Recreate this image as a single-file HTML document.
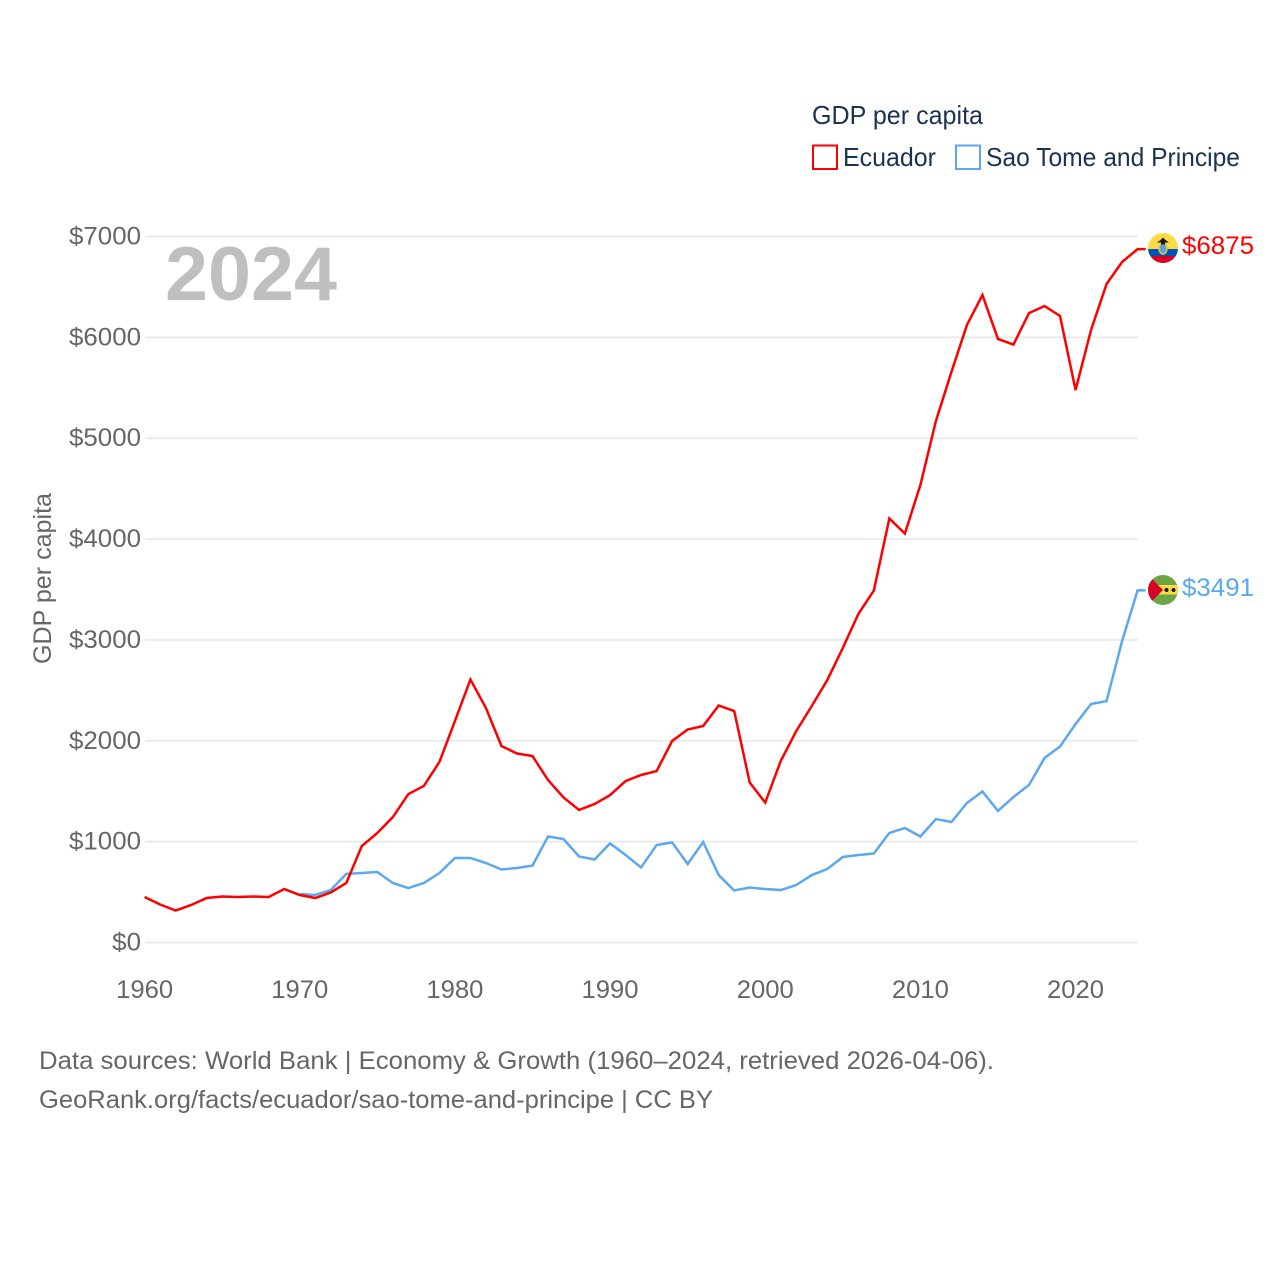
<!DOCTYPE html>
<html>
<head>
<meta charset="utf-8">
<title>GDP per capita: Ecuador and Sao Tome and Principe</title>
<style>
html,body{margin:0;padding:0;background:#fff;}
svg{display:block;}
text{font-family:"Liberation Sans",sans-serif;}
</style>
</head>
<body>
<svg id="chart" width="1280" height="1280" viewBox="0 0 1280 1280" xmlns="http://www.w3.org/2000/svg">
  <defs>
    <clipPath id="clip-flag-ec"><circle cx="1163" cy="248" r="15"/></clipPath>
    <clipPath id="clip-flag-st"><circle cx="1163" cy="590" r="15"/></clipPath>
  </defs>
  <rect width="1280" height="1280" fill="#ffffff"/>

  <g>
    <text x="812" y="124" font-size="26" fill="#1a3353" textLength="171" lengthAdjust="spacingAndGlyphs">GDP per capita</text>
    <rect x="813" y="145.5" width="24" height="23.5" fill="none" stroke="#ff0000" stroke-width="2"/>
    <text x="843" y="166" font-size="26" fill="#1a3353" textLength="93" lengthAdjust="spacingAndGlyphs">Ecuador</text>
    <rect x="956" y="145.5" width="24" height="23.5" fill="none" stroke="#5ba8f0" stroke-width="2"/>
    <text x="986" y="166" font-size="26" fill="#1a3353" textLength="254" lengthAdjust="spacingAndGlyphs">Sao Tome and Principe</text>
  </g>

  <g id="grid"></g>
  <g id="yticks"></g>
  <g id="xticks"></g>

  <text x="165" y="300" font-size="76" font-weight="700" fill="#bfbfbf" textLength="172" lengthAdjust="spacingAndGlyphs">2024</text>

  <text transform="translate(51 664) rotate(-90)" font-size="25" fill="#666666" textLength="171" lengthAdjust="spacingAndGlyphs">GDP per capita</text>

  <g id="series"></g>

  <g clip-path="url(#clip-flag-ec)">
    <rect x="1148" y="233" width="30" height="16" fill="#ffda44"/>
    <rect x="1148" y="249" width="30" height="7" fill="#0052b4"/>
    <rect x="1148" y="256" width="30" height="8" fill="#d80027"/>
    <ellipse cx="1163" cy="248.5" rx="4" ry="5.5" fill="#5f9fd8" stroke="#e8c53a" stroke-width="1.5"/>
    <path d="M1157 242.5 L1169 242.5 L1165.5 240 L1163 237.5 L1160.5 240 Z" fill="#1a1a1a"/>
    <rect x="1161" y="242" width="4" height="2.5" fill="#1a1a1a"/>
  </g>
  <g clip-path="url(#clip-flag-st)">
    <rect x="1148" y="575" width="30" height="30" fill="#6da544"/>
    <rect x="1148" y="585" width="30" height="9.5" fill="#ffda44"/>
    <path d="M1148 575 L1163 590 L1148 605 Z" fill="#d80027"/>
    <circle cx="1166.5" cy="590" r="2" fill="#1a1a1a"/>
    <circle cx="1173.5" cy="590" r="2" fill="#1a1a1a"/>
  </g>

  <text x="1182" y="254" font-size="25" fill="#ff0000" textLength="72" lengthAdjust="spacingAndGlyphs">$6875</text>
  <text x="1182" y="596" font-size="25" fill="#5ba8f0" textLength="72" lengthAdjust="spacingAndGlyphs">$3491</text>

  <text x="39" y="1069" font-size="25" fill="#666666" textLength="955" lengthAdjust="spacingAndGlyphs">Data sources: World Bank | Economy &amp; Growth (1960–2024, retrieved 2026-04-06).</text>
  <text x="39" y="1108" font-size="25" fill="#666666" textLength="674" lengthAdjust="spacingAndGlyphs">GeoRank.org/facts/ecuador/sao-tome-and-principe | CC BY</text>
</svg>
<script>
const yTickValues = [0, 1000, 2000, 3000, 4000, 5000, 6000, 7000];
const xTickYears = [1960, 1970, 1980, 1990, 2000, 2010, 2020];
const ecuadorStartYear = 1960;
const ecuadorValues = [451,377,317,372,441,456,451,456,451,530,471,441,496,590,957,1086,1244,1472,1552,1790,2196,2608,2325,1948,1874,1849,1611,1438,1314,1373,1462,1601,1661,1700,1998,2112,2147,2350,2295,1586,1388,1800,2097,2345,2603,2920,3257,3490,4204,4055,4536,5171,5657,6123,6420,5984,5929,6241,6311,6212,5478,6073,6529,6747,6875];
const saoTomeStartYear = 1970;
const saoTomeValues = [481,471,520,680,689,699,590,540,590,689,838,838,788,724,739,763,1051,1026,853,823,982,868,744,967,992,778,997,669,516,545,530,520,570,669,729,848,868,882,1086,1135,1051,1224,1195,1383,1497,1304,1443,1562,1829,1943,2166,2365,2394,2989,3491];

const SVG_NS = 'http://www.w3.org/2000/svg';
function xScale(year) { return 144.6 + (year - 1960) * (1137.6 - 144.6) / 64; }
function yScale(value) { return 942.5 - value * (942.5 - 236.5) / 7000; }

const gridGroup = document.getElementById('grid');
const yTickGroup = document.getElementById('yticks');
const xTickGroup = document.getElementById('xticks');
const seriesGroup = document.getElementById('series');

yTickValues.forEach(function (value) {
  const line = document.createElementNS(SVG_NS, 'line');
  
  
  line.setAttribute('x1', 145);
  line.setAttribute('x2', 1138);
  line.setAttribute('y1', yScale(value));
  line.setAttribute('y2', yScale(value));
  line.setAttribute('stroke', '#ebebeb');
  line.setAttribute('stroke-width', 2);
  gridGroup.appendChild(line);

  const label = document.createElementNS(SVG_NS, 'text');
  
  
  label.setAttribute('x', 141);
  label.setAttribute('y', yScale(value) + 8);
  label.setAttribute('text-anchor', 'end');
  label.setAttribute('font-size', 25);
  label.setAttribute('fill', '#666666');
  const text = '$' + value;
  label.setAttribute('textLength', 14.4 * text.length);
  label.setAttribute('lengthAdjust', 'spacingAndGlyphs');
  label.textContent = text;
  yTickGroup.appendChild(label);
});

xTickYears.forEach(function (year) {
  const label = document.createElementNS(SVG_NS, 'text');
  
  
  label.setAttribute('x', xScale(year));
  label.setAttribute('y', 998);
  label.setAttribute('text-anchor', 'middle');
  label.setAttribute('font-size', 25);
  label.setAttribute('fill', '#666666');
  label.setAttribute('textLength', 57);
  label.setAttribute('lengthAdjust', 'spacingAndGlyphs');
  label.textContent = String(year);
  xTickGroup.appendChild(label);
});

function linePoints(startYear, values) {
  const pts = values.map(function (v, i) {
    return xScale(startYear + i).toFixed(2) + ',' + yScale(v).toFixed(2);
  });
  const last = values[values.length - 1];
  pts.push((xScale(startYear + values.length - 1) + 8).toFixed(2) + ',' + yScale(last).toFixed(2));
  return pts.join(' ');
}

const saoTomeLine = document.createElementNS(SVG_NS, 'polyline');


saoTomeLine.setAttribute('points', linePoints(saoTomeStartYear, saoTomeValues));
saoTomeLine.setAttribute('fill', 'none');
saoTomeLine.setAttribute('stroke', '#5ba8f0');
saoTomeLine.setAttribute('stroke-width', 2.5);
seriesGroup.appendChild(saoTomeLine);

const ecuadorLine = document.createElementNS(SVG_NS, 'polyline');


ecuadorLine.setAttribute('points', linePoints(ecuadorStartYear, ecuadorValues));
ecuadorLine.setAttribute('fill', 'none');
ecuadorLine.setAttribute('stroke', '#ff0000');
ecuadorLine.setAttribute('stroke-width', 2.5);
seriesGroup.appendChild(ecuadorLine);
</script>
</body>
</html>
